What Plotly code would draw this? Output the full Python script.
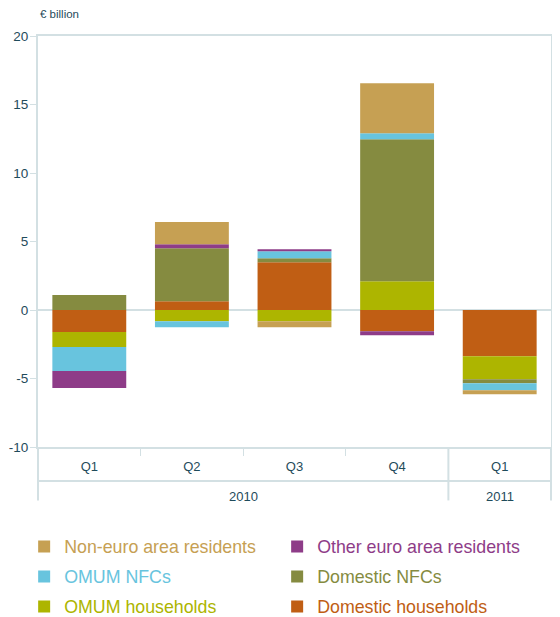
import plotly.graph_objects as go

# quarters and year groups
years = ["2010", "2010", "2010", "2010", "2011"]
quarters = ["Q1", "Q2", "Q3", "Q4", "Q1"]
periods = [f"{y} {q}" for y, q in zip(years, quarters)]

# y axis ticks (labels use a plain hyphen as in the original)
y_ticks = [-10, -5, 0, 5, 10, 15, 20]
y_labels = [str(v) for v in y_ticks]

# series values, EUR billion
domestic_households = [-1.6, 0.63, 3.48, -1.55, -3.38]
omum_households = [-1.1, -0.82, -0.82, 2.1, -1.68]
domestic_nfcs = [1.1, 3.87, 0.29, 10.36, -0.29]
omum_nfcs = [-1.75, -0.44, 0.51, 0.44, -0.51]
other_euro = [-1.25, 0.3, 0.15, -0.29, 0.0]
non_euro = [0.0, 1.62, -0.44, 3.65, -0.29]

series = [
    ("Domestic households", domestic_households, "#c05e14", "legend3"),
    ("OMUM households", omum_households, "#adb500", "legend3"),
    ("Domestic NFCs", domestic_nfcs, "#858b40", "legend2"),
    ("OMUM NFCs", omum_nfcs, "#68c4de", "legend2"),
    ("Other euro area residents", other_euro, "#8e3c88", "legend"),
    ("Non-euro area residents", non_euro, "#c6a053", "legend"),
]

axis_col = "#d3e0e3"
text_col = "#1f4b5b"
font = "Liberation Sans, Arial, sans-serif"

fig = go.Figure()
for name, vals, col, leg in series:
    fig.add_trace(go.Bar(
        x=periods, y=vals,
        name=f"<span style='color:{col}'>{name}</span>",
        marker=dict(color=col, line=dict(width=0)),
        legend=leg,
    ))

leg_common = dict(orientation="h", xanchor="left", yanchor="middle",
                  x=-0.027, traceorder="reversed",
                  entrywidth=208, entrywidthmode="pixels",
                  font=dict(size=17.8, family=font), bgcolor="rgba(0,0,0,0)")

# year group labels and dividers under the quarter labels
year_groups = {}
for i, y in enumerate(years):
    year_groups.setdefault(y, []).append(i)

annotations = [dict(text="€ billion", xref="paper", yref="paper",
                    x=0, y=1.053, xanchor="left", yanchor="middle",
                    showarrow=False, font=dict(size=11.5, color=text_col))]
shapes = [
    dict(type="line", xref="paper", yref="paper", x0=0, x1=1, y0=-0.083, y1=-0.083,
         line=dict(color=axis_col, width=2)),
    dict(type="line", xref="paper", yref="paper", x0=0, x1=0, y0=0, y1=-0.13,
         line=dict(color=axis_col, width=2)),
    dict(type="line", xref="paper", yref="paper", x0=1, x1=1, y0=0, y1=-0.13,
         line=dict(color=axis_col, width=2)),
]
for y, idx in year_groups.items():
    annotations.append(dict(text=y, xref="x", yref="paper",
                            x=(idx[0] + idx[-1]) / 2, y=-0.12, yanchor="middle",
                            showarrow=False, font=dict(size=13, color=text_col)))
    if idx[0] > 0:
        shapes.append(dict(type="line", xref="x", yref="paper",
                           x0=idx[0] - 0.5, x1=idx[0] - 0.5, y0=0, y1=-0.13,
                           line=dict(color=axis_col, width=2)))

# page body adds an 8px margin, so the figure is sized to fit the window
fig.update_layout(
    width=552, height=609,
    barmode="relative", bargap=0.28,
    plot_bgcolor="white", paper_bgcolor="white",
    margin=dict(l=30, r=9, t=28, b=170, autoexpand=False),
    font=dict(family=font, color=text_col, size=12),
    showlegend=True,
    legend=dict(y=-0.243, **leg_common),
    legend2=dict(y=-0.316, **leg_common),
    legend3=dict(y=-0.389, **leg_common),
    xaxis=dict(
        type="category", tickvals=periods, ticktext=quarters,
        showline=True, linecolor=axis_col, linewidth=2, mirror=True,
        ticks="outside", tickson="boundaries", tickcolor=axis_col, ticklen=7,
        ticklabelstandoff=6, automargin=False,
        tickfont=dict(size=13, color=text_col),
    ),
    yaxis=dict(
        range=[-10, 20], tickvals=y_ticks, ticktext=y_labels,
        showgrid=False, automargin=False,
        showline=True, linecolor=axis_col, linewidth=2, mirror=True,
        ticks="outside", tickcolor=axis_col, ticklen=6, ticklabelstandoff=-1,
        zeroline=True, zerolinecolor=axis_col, zerolinewidth=2,
        tickfont=dict(size=13.5, color=text_col),
    ),
    annotations=annotations,
    shapes=shapes,
)

fig.write_html("out.html")
